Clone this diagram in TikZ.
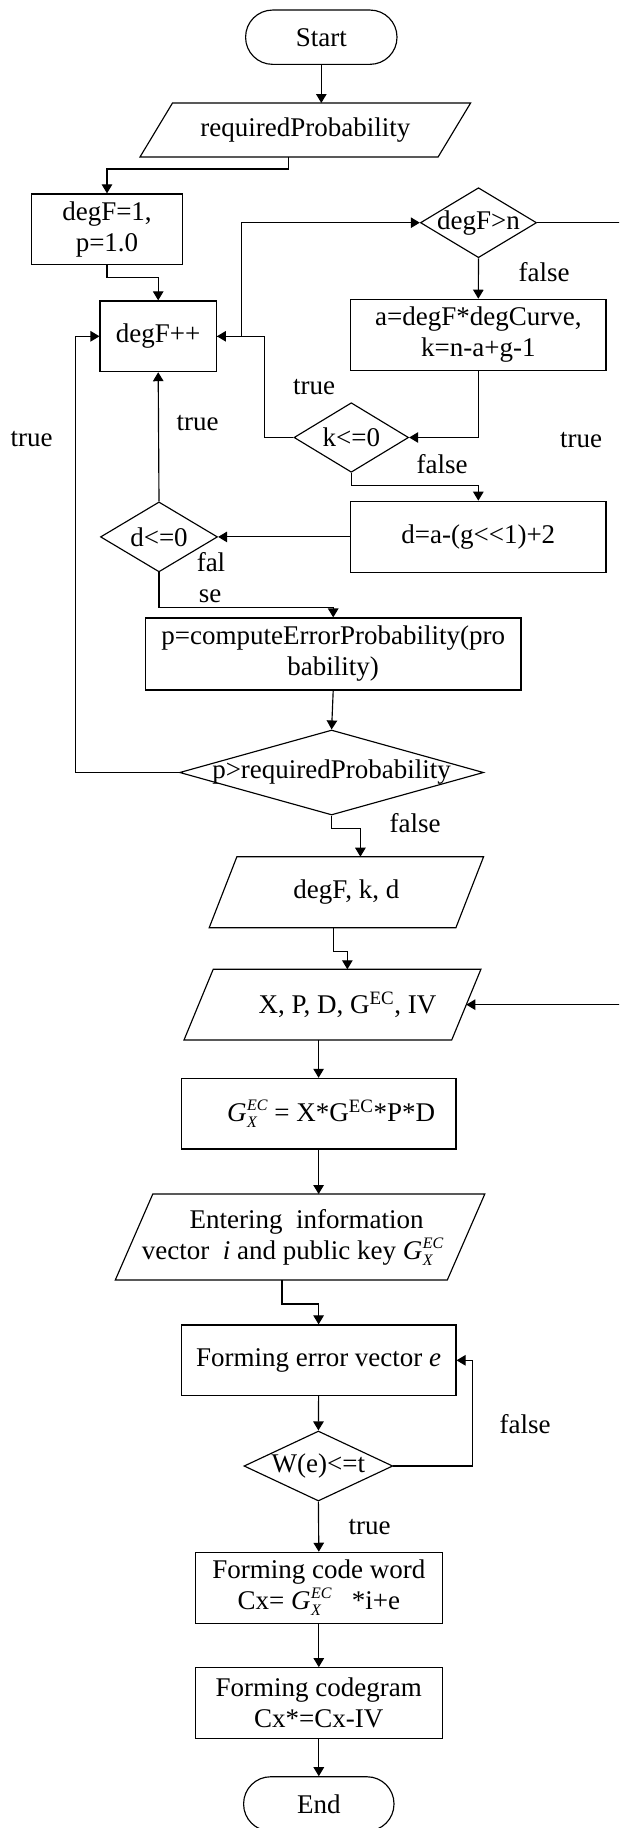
\documentclass[tikz,border=0pt]{standalone}
\usepackage{fontspec}
\setmainfont{Liberation Serif}
\usetikzlibrary{arrows.meta,shapes.geometric,calc}
\newcommand{\gxec}{\textit{G}\kern0.5pt\rlap{\raisebox{-6pt}{\fontsize{16}{16}\selectfont\itshape X}}\raisebox{11pt}{\fontsize{16}{16}\selectfont\itshape EC}}
\begin{document}
\begin{tikzpicture}[x=1pt,y=-1pt,line width=1.15pt,
  font=\fontsize{27}{31}\selectfont,
  flow/.style={-{Triangle[length=9pt,width=10.5pt]}},
  box/.style={draw,rectangle,inner sep=0pt,align=center},
  term/.style={draw,rectangle,rounded corners=27pt,inner sep=0pt},
  dia/.style={draw,diamond,inner sep=0pt},
  pg/.style={rectangle,inner sep=0pt,outer sep=0pt,align=center},
  lbl/.style={inner sep=0pt}]
\useasboundingbox (0,0) rectangle (619,1828);
\fill[white] (0,0) rectangle (619,1828);
\clip (0,0) rectangle (619,1828);
% nodes
\node[term,minimum width=151.4pt,minimum height=54.3pt] (start) at (321.3,37.2) {Start};
\node[pg,minimum width=298.1pt,minimum height=54pt] (req) at (305.3,130) {requiredProbability};
\node[box,minimum width=150.8pt,minimum height=70.7pt] (init) at (107,229.3) {degF=1,\\p=1.0};
\node[box,minimum width=116.3pt,minimum height=70.7pt] (inc) at (158.2,336.3) {degF++};
\node[dia,minimum width=116.2pt,minimum height=70pt] (dgn) at (478.5,222.7) {\makebox[0pt]{degF>n}};
\node[box,minimum width=255.4pt,minimum height=71.4pt] (abox) at (478.3,335) {a=degF*degCurve,\\k=n-a+g-1};
\node[dia,minimum width=114.6pt,minimum height=69.6pt] (kdec) at (351.3,437.5) {\makebox[0pt]{k<=0}};
\node[box,minimum width=255.4pt,minimum height=71.3pt] (dbox) at (478.3,536.9) {d=a-(g<\kern0pt<1)+2};
\node[dia,minimum width=117pt,minimum height=70pt] (ddec) at (159,536.9) {\makebox[0pt]{d<=0}};
\node[box,minimum width=375.7pt,minimum height=72pt] (pbox) at (333.2,654) {p=computeErrorProbability(pro\\bability)};
\node[dia,minimum width=304pt,minimum height=85pt] (pdec) at (331.6,772.5) {\makebox[0pt]{p>requiredProbability}};
\node[pg,minimum width=246.7pt,minimum height=71pt] (out1) at (346.4,892.2) {degF, k, d};
\node[pg,minimum width=267.7pt,minimum height=70.7pt] (in2) at (332.45,1004.65) {\hspace*{30pt}X, P, D, G\textsuperscript{EC}, IV};
\node[box,minimum width=274.8pt,minimum height=70.7pt] (gbox) at (318.6,1113.7) {\hspace*{25pt}\gxec{} = X*G\textsuperscript{EC}*P*D};
\node[pg,minimum width=332pt,minimum height=86pt] (in3) at (300.05,1237) {\hspace*{13pt}Entering~ information\\vector~ \textit{i} and public key \gxec\hspace*{15pt}};
\node[box,minimum width=274.8pt,minimum height=70.7pt] (ebox) at (318.6,1360.3) {Forming error vector \textit{e}};
\node[dia,minimum width=148.8pt,minimum height=70pt] (wdec) at (318.4,1466) {\makebox[0pt]{W(e)<=t}};
\node[box,minimum width=246.8pt,minimum height=71pt] (cbox) at (318.8,1587.8) {Forming code word\\Cx= \gxec~~ *i+e};
\node[box,minimum width=246.8pt,minimum height=71pt] (fbox) at (318.8,1703.2) {Forming codegram\\Cx*=Cx-IV};
\node[term,minimum width=150.4pt,minimum height=54.3pt] (stop) at (318.8,1803.9) {End};
% parallelogram outlines
\foreach \n/\h in {req/16.25,out1/13.85,in2/14.6,in3/18.75}{
  \draw ($(\n.south west)+(-\h,0)$) -- ($(\n.north west)+(\h,0)$) -- ($(\n.north east)+(\h,0)$) -- ($(\n.south east)+(-\h,0)$) -- cycle;
}
\coordinate (redge) at (622,0);
% connectors
\draw[flow] (start.south) -- (start.south |- req.north);
\draw[flow] ([xshift=-16.7pt]req.south) -- ++(0,12) -| (init.north);
\draw[flow] (init.south) -- ++(0,12) -| (inc.north);
\draw[flow] (inc.east) -- ++(24.5,0) |- (dgn.west);
\draw[flow] (dgn.south) -- (abox.north);
\draw[flow] (dgn.east) -- (dgn.east -| redge) |- (in2.east);
\draw[flow] (abox.south) |- (kdec.east);
\draw[flow] (kdec.west) -- ++(-28.7,0) |- (inc.east);
\draw[flow] (kdec.south) -- ++(0,12.7) -| (dbox.north);
\draw[flow] (dbox.west) -- (ddec.east);
\draw[flow] (ddec.north) -- (inc.south);
\draw[flow] (ddec.south) -- ++(0,35.3) -| (pbox.north);
\draw[flow] (pbox.south) -- (pdec.north);
\draw[flow] (pdec.west) -- ++(-103.8,0) |- (inc.west);
\draw[flow] (pdec.south) -- ++(0,13.3) -| ([xshift=14pt]out1.north);
\draw[flow] ([xshift=-12.8pt]out1.south) -- ++(0,24) -| ([xshift=14.9pt]in2.north);
\draw[flow] (in2.south -| gbox.north) -- (gbox.north);
\draw[flow] (gbox.south) -- (gbox.south |- in3.north);
\draw[flow] ([xshift=-18.1pt]in3.south) -- ++(0,24) -| (ebox.north);
\draw[flow] (ebox.south) -- (wdec.north);
\draw[flow] (wdec.east) -- ++(79,0) |- (ebox.east);
\draw[flow] (wdec.south) -- (cbox.north);
\draw[flow] (cbox.south) -- (fbox.north);
\draw[flow] (fbox.south) -- (stop.north);
% labels
\node[lbl] (l1) at (544,271.7) {false};
\node[lbl] (l2) at (314,387) {true};
\node[lbl] (l3) at (581,440) {true};
\node[lbl] (l4) at (197.5,423.3) {true};
\node[lbl] (l5) at (31.6,439.3) {true};
\node[lbl] (l6) at (442,464) {false};
\node[lbl] (l7) at (211,561.7) {fal};
\node[lbl] (l8) at (210,596.7) {se};
\node[lbl] (l9) at (415,822.7) {false};
\node[lbl] (l10) at (525,1424) {false};
\node[lbl] (l11) at (369.5,1526.7) {true};
\end{tikzpicture}
\end{document}
